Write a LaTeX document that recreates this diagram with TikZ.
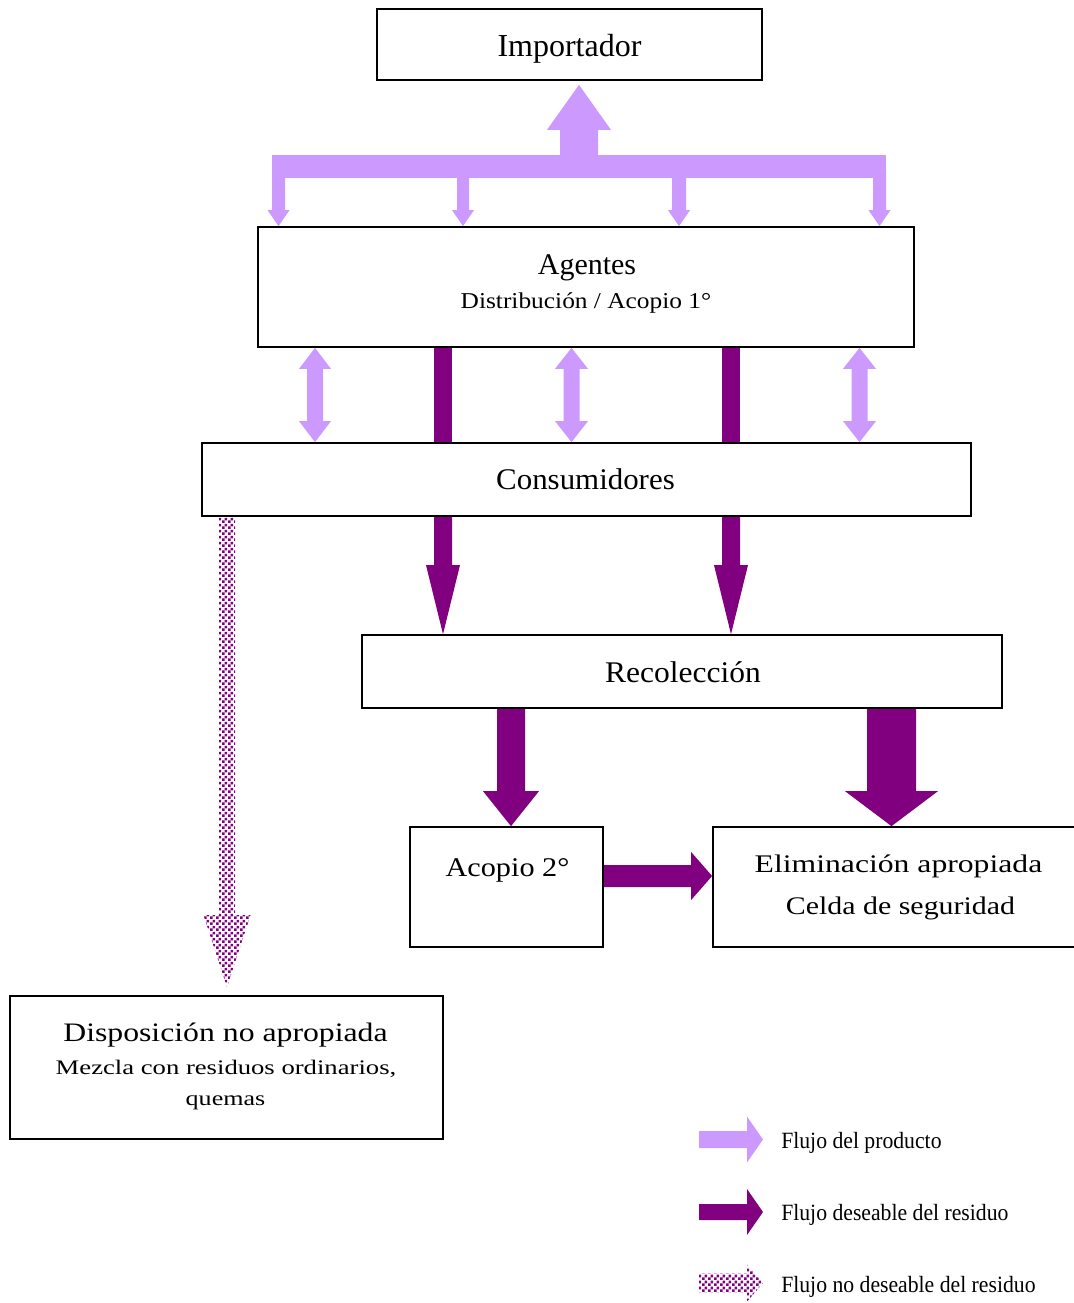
\documentclass[tikz,border=0pt]{standalone}
\usepackage{fontspec}
\setmainfont{Liberation Serif}
\usepackage{graphicx}
\usetikzlibrary{calc,fit,backgrounds,patterns.meta}

\definecolor{prodlila}{HTML}{CC99FF}
\definecolor{resmorado}{HTML}{800080}

% checkerboard used for the undesired waste flow
\tikzdeclarepattern{
  name=dither,
  type=uncolored,
  bounding box={(0pt,0pt) and (4.5pt,4.5pt)},
  tile size={(4.5pt,4.5pt)},
  code={
    \fill (0pt,0pt) rectangle (2.25pt,2.25pt);
    \fill (2.25pt,2.25pt) rectangle (4.5pt,4.5pt);
  }
}

% text at a given size (pt) and horizontal stretch
\newcommand\lbl[3]{\scalebox{#2}[1]{\fontsize{#1}{#1}\selectfont #3}}

% vertical block arrow: style, start, tip, shaft half-width, head half-width, signed head length
\newcommand\vblk[6]{%
  \path #2 coordinate (vs) #3 coordinate (ve);
  \fill[#1] ($(vs)+(-#4,0)$) -- ($(vs)+(#4,0)$) -- ($(ve)+(#4,#6)$) -- ($(ve)+(#5,#6)$) -- (ve)
    -- ($(ve)+(-#5,#6)$) -- ($(ve)+(-#4,#6)$) -- cycle;}

% horizontal block arrow: style, start, tip, shaft half-height, head half-height, signed head length
\newcommand\hblk[6]{%
  \path #2 coordinate (hs) #3 coordinate (he);
  \fill[#1] ($(hs)+(0,-#4)$) -- ($(he)+(#6,-#4)$) -- ($(he)+(#6,-#5)$) -- (he)
    -- ($(he)+(#6,#5)$) -- ($(he)+(#6,#4)$) -- ($(hs)+(0,#4)$) -- cycle;}

% double-headed vertical block arrow: style, upper tip, lower tip, shaft half, head half, head length
\newcommand\dblk[6]{%
  \path #2 coordinate (ds) #3 coordinate (de);
  \fill[#1] (ds) -- ($(ds)+(#5,#6)$) -- ($(ds)+(#4,#6)$) -- ($(de)+(#4,-#6)$) -- ($(de)+(#5,-#6)$)
    -- (de) -- ($(de)+(-#5,-#6)$) -- ($(de)+(-#4,-#6)$) -- ($(ds)+(-#4,#6)$) -- ($(ds)+(-#5,#6)$) -- cycle;}

\begin{document}
\begin{tikzpicture}[x=0.75pt,y=-0.75pt,
  box/.style={draw=black, line width=1.3pt, inner sep=0pt},
  txt/.style={inner sep=0pt, anchor=base},
  prod/.style={fill=prodlila},
  resid/.style={fill=resmorado},
  noresid/.style={pattern=dither, pattern color=resmorado}]
\useasboundingbox (0,0) rectangle (1074,1303);

% boxes
\node[box, fit={(377,9) (762,80)}] (imp) {};
\node[box, fit={(258,227) (914,347)}] (agt) {};
\node[box, fit={(202,443) (971,516)}] (cons) {};
\node[box, fit={(362,635) (1002,708)}] (recol) {};
\node[box, fit={(410,827) (603,947)}] (acop) {};
\node[box, fit={(713,827) (1080,947)}] (elim) {};
\node[box, fit={(10,996) (443,1139)}] (disp) {};

% box texts
\node[txt] (t-imp) at (569.5,56) {\lbl{24}{1}{Importador}};
\node[txt] (t-agt) at (587,274) {\lbl{22.5}{1}{Agentes}};
\node[txt] (t-agt2) at (586,308) {\lbl{17}{1.12}{Distribución / Acopio 1°}};
\node[txt] (t-cons) at (585.5,489) {\lbl{22.5}{1.03}{Consumidores}};
\node[txt] (t-recol) at (683,682) {\lbl{22.5}{1.05}{Recolección}};
\node[txt] (t-acop) at (507.5,876) {\lbl{20.25}{1.12}{Acopio 2°}};
\node[txt] (t-elim) at (898.5,872) {\lbl{19}{1.25}{Eliminación apropiada}};
\node[txt] (t-elim2) at (900.5,914) {\lbl{19}{1.18}{Celda de seguridad}};
\node[txt] (t-disp) at (225.5,1041) {\lbl{20}{1.19}{Disposición no apropiada}};
\node[txt] (t-disp2) at (226,1074) {\lbl{15.5}{1.29}{Mezcla con residuos ordinarios,}};
\node[txt] (t-disp3) at (225.5,1105) {\lbl{15.5}{1.26}{quemas}};

% legend texts
\node[txt, anchor=base west] (l-prod) at (781,1148) {\lbl{17.5}{0.93}{Flujo del producto}};
\node[txt, anchor=base west] (l-res) at (781,1220) {\lbl{17.5}{0.93}{Flujo deseable del residuo}};
\node[txt, anchor=base west] (l-nores) at (781,1292) {\lbl{17.5}{0.93}{Flujo no deseable del residuo}};

\begin{scope}[on background layer]
  \fill[white] (0,0) rectangle (1074,1303);

  % product flow: importer to agents
  \path (272,155) coordinate (bar-nw) (886,178) coordinate (bar-se);
  \fill[prod] (bar-nw) rectangle (bar-se);
  \vblk{prod}{(579,156)}{($(imp.south -| 579,0)+(0,4)$)}{19}{32}{45}
  \vblk{prod}{(278.5,170)}{(agt.north -| 278.5,0)}{6.5}{11}{-16}
  \vblk{prod}{(463,170)}{(agt.north -| 463,0)}{6}{11}{-16}
  \vblk{prod}{(679,170)}{(agt.north -| 679,0)}{7}{11}{-16}
  \vblk{prod}{(879.5,170)}{(agt.north -| 879.5,0)}{6.5}{11}{-16}

  % product flow: agents <-> consumers
  \dblk{prod}{(agt.south -| 315,0)}{(cons.north -| 315,0)}{8}{16}{21}
  \dblk{prod}{(agt.south -| 571.5,0)}{(cons.north -| 571.5,0)}{8}{16.5}{21}
  \dblk{prod}{(agt.south -| 859.5,0)}{(cons.north -| 859.5,0)}{8}{16.5}{21}

  % desired waste flow
  \fill[resid] (agt.south -| 434,0) rectangle (cons.north -| 452,0);
  \fill[resid] (agt.south -| 722,0) rectangle (cons.north -| 740,0);
  \vblk{resid}{(cons.south -| 443,0)}{(recol.north -| 443,0)}{9}{17}{-69}
  \vblk{resid}{(cons.south -| 731,0)}{(recol.north -| 731,0)}{9}{17}{-69}
  \vblk{resid}{(recol.south -| 511,0)}{(acop.north -| 511,0)}{14}{28}{-35}
  \vblk{resid}{(recol.south -| 891.5,0)}{(elim.north -| 891.5,0)}{24.5}{46.5}{-35}
  \hblk{resid}{(acop.east |- 0,876)}{(elim.west |- 0,876)}{11}{24}{-21}

  % undesired waste flow
  \vblk{noresid}{(cons.south -| 227,0)}{($(disp.north -| 227,0)+(0,-8)$)}{8}{23.5}{-72}

  % legend arrows
  \path (699,1139.5) coordinate (lg1s) (763,1139.5) coordinate (lg1e)
        (699,1212) coordinate (lg2s) (763,1212) coordinate (lg2e)
        (699,1283) coordinate (lg3s) (763,1283) coordinate (lg3e);
  \hblk{prod}{(lg1s)}{(lg1e)}{8.5}{23}{-16}
  \hblk{resid}{(lg2s)}{(lg2e)}{8}{23}{-16}
  \hblk{noresid}{(lg3s)}{(lg3e)}{9.5}{18.5}{-16}
\end{scope}
\end{tikzpicture}
\end{document}
